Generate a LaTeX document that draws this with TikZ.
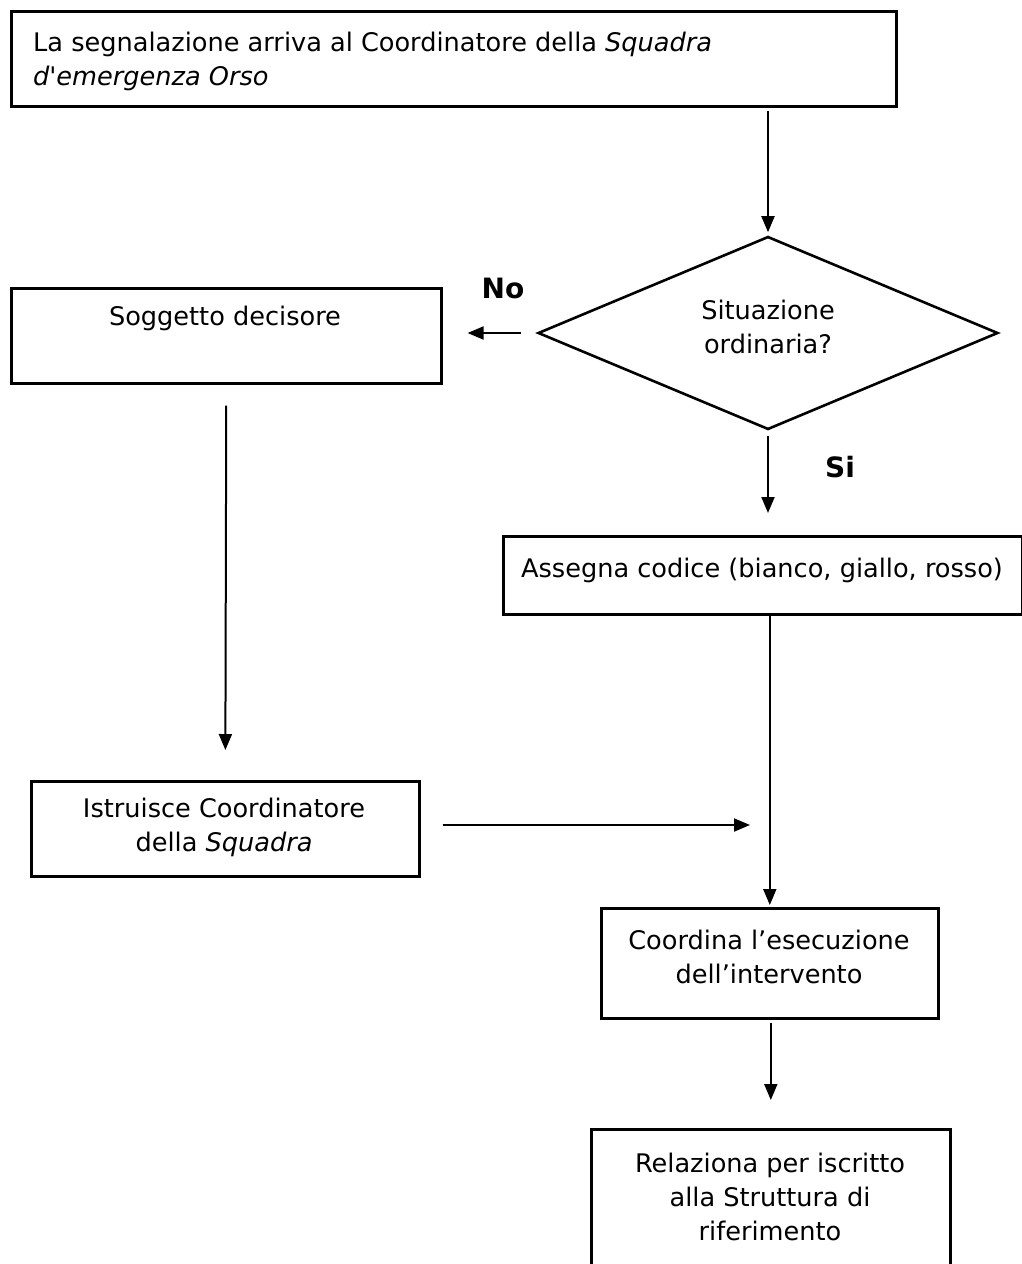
\documentclass[tikz,border=0pt]{standalone}
\usepackage{fontspec}
\setmainfont{DejaVu Sans}
\usetikzlibrary{shapes.geometric,arrows.meta}
\newcommand{\straightapos}{\XeTeXglyph\XeTeXcharglyph"27\relax}
\begin{document}
\begin{tikzpicture}[x=1pt,y=-1pt,
  box/.style={draw, line width=2.6pt, anchor=north west, inner sep=0pt},
  lbl/.style={font=\fontsize{25.6}{34}\selectfont, align=center, inner sep=0pt},
  yn/.style={font=\fontsize{28}{30}\selectfont\bfseries, inner sep=0pt},
  arr/.style={line width=2pt, -{Triangle[length=16pt,width=13pt]}}]
\useasboundingbox (0,0) rectangle (1021,1264);
% boxes
\node[box, minimum width=885pt, minimum height=95pt] (b1) at (10,10) {};
\node[lbl, align=left, anchor=west] (t1) at (33,61) {La segnalazione arriva al Coordinatore della \textit{Squadra}\\\textit{d\straightapos emergenza Orso}};
\node[diamond, draw, line width=2.6pt, minimum width=460pt, minimum height=193pt, inner sep=0pt] (dia) at (768,333) {};
\node[lbl] (tdia) at (768,327) {Situazione\\ordinaria?};
\node[box, minimum width=430pt, minimum height=95pt] (sog) at (10,287) {};
\node[lbl] (tsog) at (225,318) {Soggetto decisore};
\node[box, minimum width=519pt, minimum height=78pt] (ass) at (502,535) {};
\node[lbl] (tass) at (762,570) {Assegna codice (bianco, giallo, rosso)};
\node[box, minimum width=388pt, minimum height=95pt] (istr) at (30,780) {};
\node[lbl] (tistr) at (224,827) {Istruisce Coordinatore\\della \textit{Squadra}};
\node[box, minimum width=337pt, minimum height=110pt] (coord) at (600,907) {};
\node[lbl] (tcoord) at (769,957) {Coordina l’esecuzione\\dell’intervento};
\node[box, minimum width=359pt, minimum height=150pt] (rel) at (590,1128) {};
\node[lbl] (trel) at (770,1197) {Relaziona per iscritto\\alla Struttura di\\riferimento};
% labels
\node[yn] (no) at (503,288) {No};
\node[yn] (si) at (840,467) {Si};
\coordinate (join) at (767,825);
% connectors
\draw[arr, shorten <=3pt, shorten >=3pt] (b1.south -| dia.north) -- (dia.north);
\draw[arr, shorten <=16pt, shorten >=25pt] (dia.west) -- (sog.east |- dia.west);
\draw[arr, shorten <=5pt, shorten >=22pt] (dia.south) -- (dia.south |- ass.north);
\draw[arr, shorten >=2pt] (coord.north |- ass.south) -- (coord.north);
\draw[arr, shorten <=21pt, shorten >=30pt] (sog.south) -- (istr.north);
\draw[arr, shorten <=22pt, shorten >=17pt] (istr.east |- join) -- (join);
\draw[arr, shorten <=3pt, shorten >=28pt] (coord.south -| rel.north) -- (rel.north);
\end{tikzpicture}
\end{document}
